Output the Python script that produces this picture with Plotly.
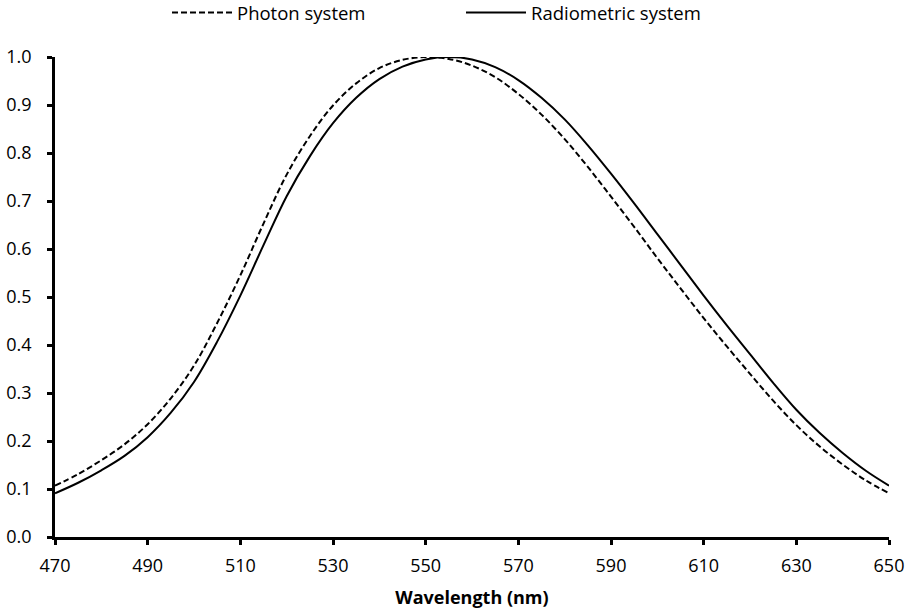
import plotly.graph_objects as go

wavelength = [470, 475, 480, 485, 490, 495, 500, 505, 510, 515, 520, 525, 530, 535, 540, 545,
              550, 555, 560, 565, 570, 575, 580, 585, 590, 595, 600, 605, 610, 615, 620, 625,
              630, 635, 640, 645, 650]
radiometric = [0.091, 0.113, 0.139, 0.169, 0.208, 0.259, 0.323, 0.407, 0.503, 0.608, 0.710, 0.793,
               0.862, 0.915, 0.954, 0.980, 0.995, 1.000, 0.995, 0.979, 0.952, 0.915, 0.870, 0.816,
               0.757, 0.695, 0.631, 0.567, 0.503, 0.441, 0.381, 0.321, 0.265, 0.217, 0.175, 0.138,
               0.107]
photon = [0.107, 0.131, 0.160, 0.193, 0.235, 0.289, 0.357, 0.446, 0.545, 0.653, 0.755, 0.835,
          0.899, 0.945, 0.977, 0.994, 1.000, 0.996, 0.982, 0.958, 0.923, 0.880, 0.829, 0.771,
          0.709, 0.646, 0.581, 0.518, 0.456, 0.397, 0.340, 0.284, 0.233, 0.189, 0.151, 0.118,
          0.091]
x_ticks = [470, 490, 510, 530, 550, 570, 590, 610, 630, 650]
y_ticks = [0.0, 0.1, 0.2, 0.3, 0.4, 0.5, 0.6, 0.7, 0.8, 0.9, 1.0]

FONT = "Open Sans, sans-serif"

fig = go.Figure()
fig.add_trace(go.Scatter(x=wavelength, y=photon, mode="lines", name="Photon system",
                         line=dict(color="black", width=2, dash="6px,3px", shape="spline")))
fig.add_trace(go.Scatter(x=wavelength, y=radiometric, mode="lines", name="Radiometric system",
                         line=dict(color="black", width=2, shape="spline")))

fig.update_layout(
    width=908, height=613,
    margin=dict(l=55, r=19, t=57, b=76, autoexpand=False),
    paper_bgcolor="white", plot_bgcolor="white",
    font=dict(family=FONT, size=18, color="black"),
    showlegend=True,
    legend=dict(orientation="h", x=(167 - 55) / 834, xanchor="left", y=1 + 44 / 480,
                yanchor="middle",
                font=dict(size=18.5), itemwidth=60, entrywidth=219, entrywidthmode="pixels",
                bgcolor="rgba(0,0,0,0)"),
    xaxis=dict(range=[470, 650], tickvals=x_ticks, ticktext=[str(v) for v in x_ticks],
               showgrid=False, zeroline=False, showline=True, linecolor="black", linewidth=2.5,
               ticks="outside", ticklen=5, tickwidth=2.5, tickcolor="black",
               ticklabelstandoff=6,
               title=dict(text="<b>Wavelength (nm)</b>", font=dict(size=18), standoff=16)),
    yaxis=dict(range=[0, 1.0], tickvals=y_ticks, ticktext=[f"{v:.1f}" for v in y_ticks],
               showgrid=False, zeroline=False, showline=True, linecolor="black", linewidth=2.5,
               ticks="outside", ticklen=5, tickwidth=2.5, tickcolor="black",
               ticklabelstandoff=12),
)

fig.write_html("out.html",
               config={"displayModeBar": False},
               post_script="document.body.style.margin='0px';document.body.style.overflow='hidden';")
